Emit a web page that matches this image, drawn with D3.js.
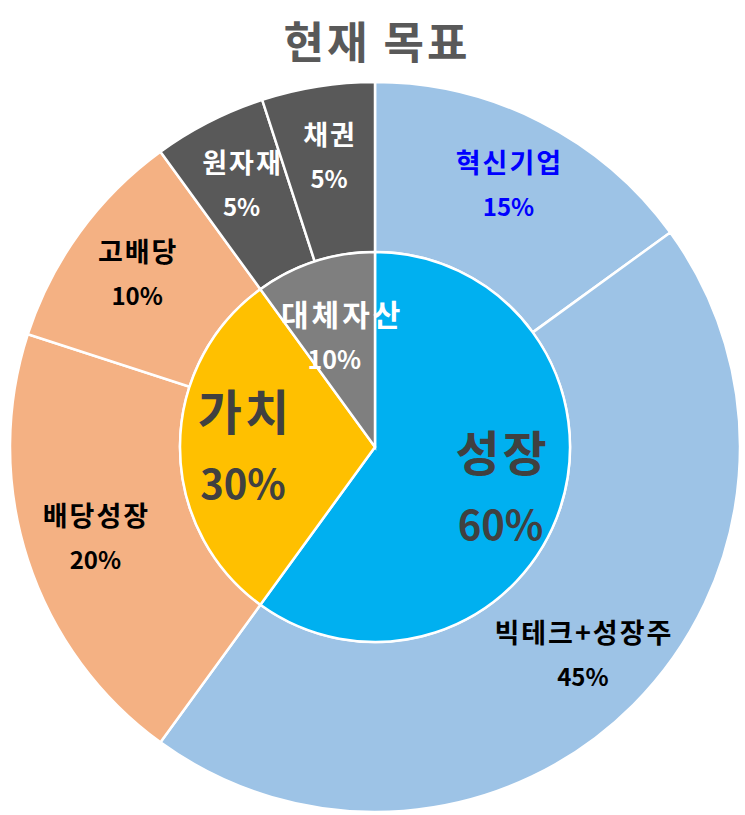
<!DOCTYPE html>
<html><head><meta charset="utf-8">
<script src="https://cdn.jsdelivr.net/npm/d3@7"></script>
<style>body{margin:0;background:#fff}</style>
</head><body>
<svg id="c" width="745" height="815"></svg>
<script>
const title = "현재 목표";
const outerLabels = ["혁신기업","빅테크+성장주","배당성장","고배당","원자재","채권"];
const outerValues = [15,45,20,10,5,5];
const outerColors = ["#9DC3E6","#9DC3E6","#F4B183","#F4B183","#595959","#595959"];
const outerTextColors = ["#0000FF","#000000","#000000","#000000","#FFFFFF","#FFFFFF"];
const innerLabels = ["성장","가치","대체자산"];
const innerValues = [60,30,10];
const innerColors = ["#00B0F0","#FFC000","#7F7F7F"];
const innerTextColors = ["#404040","#404040","#FFFFFF"];

const svg = d3.select("#c");
const cx = 375, cy = 447, R = 365, r0 = 195;
const font = "'Noto Sans CJK KR','Noto Sans',sans-serif";
const g = svg.append("g").attr("transform",`translate(${cx},${cy})`);
const pie = d3.pie().sort(null).value(d=>d);

svg.append("text").attr("x",377).attr("y",59).attr("text-anchor","middle")
  .attr("font-family",font).attr("font-weight",700).attr("font-size",44)
  .attr("letter-spacing",3).attr("fill","#595959").text(title);

const oArcs = pie(outerValues);
const outerArc = d3.arc().innerRadius(r0).outerRadius(R);
g.selectAll("path.o").data(oArcs).join("path").attr("class","o")
  .attr("d",outerArc).attr("fill",(d,i)=>outerColors[i])
  .attr("stroke","#fff").attr("stroke-width",2.5);

const iArcs = pie(innerValues);
const innerArc = d3.arc().innerRadius(0).outerRadius(r0);
g.selectAll("path.i").data(iArcs).join("path").attr("class","i")
  .attr("d",innerArc).attr("fill",(d,i)=>innerColors[i])
  .attr("stroke","#fff").attr("stroke-width",2.5);

const oLab = d3.arc().innerRadius(294).outerRadius(294);
oArcs.forEach((d,i)=>{
  const [x,y] = oLab.centroid(d);
  const t = g.append("text").attr("text-anchor","middle").attr("font-family",font)
    .attr("font-weight",700).attr("fill",outerTextColors[i]);
  t.append("tspan").attr("x",x+1).attr("y",y-12).attr("font-size",27)
    .attr("letter-spacing",2).text(outerLabels[i]);
  t.append("tspan").attr("x",x).attr("y",y+31).attr("font-size",24).text(outerValues[i]+"%");
});

const iLab = d3.arc().innerRadius(132).outerRadius(132);
iArcs.forEach((d,i)=>{
  const [x,y] = iLab.centroid(d);
  const small = innerValues[i] < 20;
  const t = g.append("text").attr("text-anchor","middle").attr("font-family",font)
    .attr("font-weight",700).attr("fill",innerTextColors[i]);
  if (small) {
    t.append("tspan").attr("x",x+8).attr("y",y+5).attr("font-size",30)
      .attr("letter-spacing",3).text(innerLabels[i]);
    t.append("tspan").attr("x",x).attr("y",y+48).attr("font-size",25).text(innerValues[i]+"%");
  } else {
    t.append("tspan").attr("x",x+2).attr("y",y-17).attr("font-size",48)
      .attr("letter-spacing",3).text(innerLabels[i]);
    t.append("tspan").attr("x",x).attr("y",y+52).attr("font-size",40).text(innerValues[i]+"%");
  }
});
</script>
</body></html>
